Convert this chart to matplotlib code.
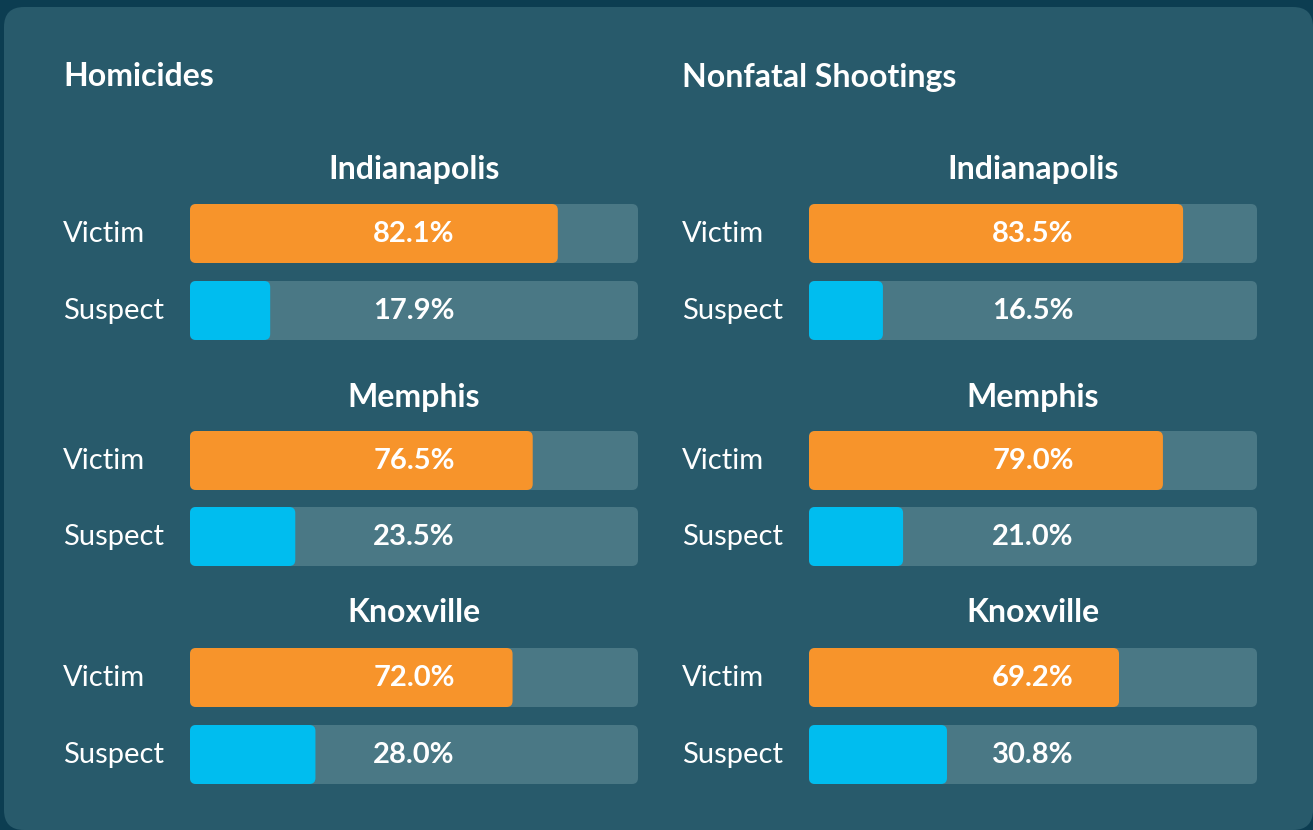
import matplotlib.pyplot as plt
from matplotlib.patches import FancyBboxPatch


cities = ["Indianapolis", "Memphis", "Knoxville"]
panels = ["Homicides", "Nonfatal Shootings"]
homicide_victim = [82.1, 76.5, 72.0]
homicide_suspect = [17.9, 23.5, 28.0]
nonfatal_victim = [83.5, 79.0, 69.2]
nonfatal_suspect = [16.5, 21.0, 30.8]
row_labels = ["Victim", "Suspect"]

OUTER = "#0c3d51"
CARD = "#285a6b"
TRACK = "#4a7885"
ORANGE = "#f7942b"
BLUE = "#00bdef"

plt.rcParams["font.family"] = ["Lato", "DejaVu Sans"]

W, H = 1313, 830
fig = plt.figure(figsize=(W / 100, H / 100), dpi=100, facecolor=OUTER)
ax = fig.add_axes([0, 0, 1, 1])
ax.set_xlim(0, W)
ax.set_ylim(H, 0)
ax.axis("off")


def rbox(x, y, w, h, r, color):
    ax.add_patch(FancyBboxPatch((x, y), w, h,
                                boxstyle=f"round,pad=0,rounding_size={r}",
                                fc=color, ec="none"))


# card
rbox(4, 7, W - 4, H - 7, 20, CARD)

track_w = 448
bar_h = 59
city_y = [169, 397, 612]
victim_y = [204, 431, 648]
suspect_y = [281, 507, 725]

data = [(homicide_victim, homicide_suspect),
        (nonfatal_victim, nonfatal_suspect)]

for p, (title, (vic, sus)) in enumerate(zip(panels, data)):
    dx = p * 619
    x0 = 190 + dx
    ax.text(63 + dx, 77, title, color="white", fontsize=23,
            fontweight="bold", va="center", ha="left")

    for i, city in enumerate(cities):
        ax.text(x0 + track_w / 2, city_y[i], city, color="white",
                fontsize=23, fontweight="bold", ha="center", va="center")
        for y, val, col, lab in [(victim_y[i], vic[i], ORANGE, row_labels[0]),
                                 (suspect_y[i], sus[i], BLUE, row_labels[1])]:
            ax.text(63 + dx, y + bar_h / 2, lab, color="white",
                    fontsize=21, ha="left", va="center")
            rbox(x0, y, track_w, bar_h, 6, TRACK)
            rbox(x0, y, track_w * val / 100, bar_h, 6, col)
            ax.text(x0 + track_w / 2, y + bar_h / 2, f"{val:.1f}%",
                    color="white", fontsize=21, fontweight="bold",
                    ha="center", va="center")

fig.savefig("out.png", dpi=100, facecolor=OUTER)
